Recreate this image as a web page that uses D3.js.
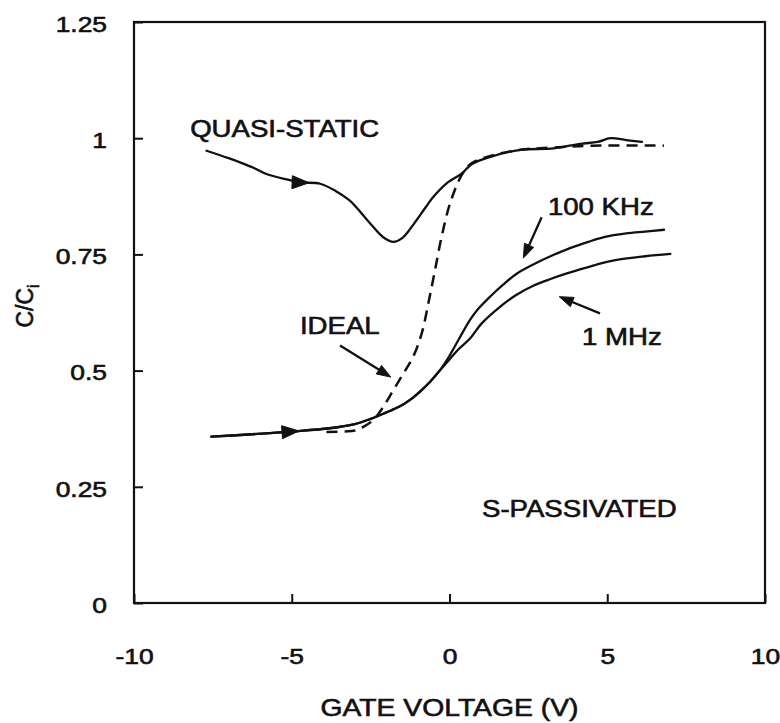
<!DOCTYPE html>
<html>
<head>
<meta charset="utf-8">
<script src="https://cdn.jsdelivr.net/npm/d3@7"></script>
<style>
  html, body { margin: 0; padding: 0; background: #fff; }
  svg { display: block; }
  text { font-family: "Liberation Sans", Arial, Helvetica, sans-serif; fill: #111; stroke: #111; stroke-width: 0.6px; }
</style>
</head>
<body>
<svg id="chart" width="780" height="723"></svg>
<script>
// Axis ticks
const xTickValues = [-10, -5, 0, 5, 10];
const xTickLabels = ["-10", "-5", "0", "5", "10"];
const yTickValues = [0, 0.25, 0.5, 0.75, 1, 1.25];
const yTickLabels = ["0", "0.25", "0.5", "0.75", "1", "1.25"];

// C/Ci versus gate voltage (V)
const quasiStatic = [
  [-7.7, 0.973], [-7.0, 0.957], [-6.6, 0.947], [-6.2, 0.936], [-5.8, 0.923],
  [-5.2, 0.912], [-4.7, 0.905], [-4.1, 0.902], [-3.6, 0.886], [-3.15, 0.865],
  [-2.52, 0.817], [-2.1, 0.787], [-1.78, 0.777], [-1.5, 0.785], [-1.3, 0.8],
  [-1.04, 0.824], [-0.75, 0.852], [-0.51, 0.874], [-0.09, 0.903], [0.39, 0.924],
  [0.7, 0.944], [1.3, 0.96], [2.25, 0.975], [3.3, 0.978], [4.15, 0.988],
  [4.7, 0.992], [5.1, 1.0], [5.6, 0.996], [6.1, 0.992]
];
const ideal = [
  [-3.9, 0.368], [-3.3, 0.369], [-3.0, 0.371], [-2.73, 0.379], [-2.41, 0.394],
  [-2.1, 0.422], [-1.78, 0.458], [-1.46, 0.494], [-1.15, 0.53], [-0.88, 0.58],
  [-0.67, 0.645], [-0.46, 0.716], [-0.25, 0.788], [0.02, 0.86], [0.39, 0.921],
  [0.7, 0.946], [1.3, 0.962], [2.25, 0.975], [3.3, 0.98], [4.5, 0.984],
  [6.8, 0.984]
];
const hf100kHz = [
  [-7.55, 0.358], [-6.5, 0.362], [-5.0, 0.369], [-3.8, 0.376], [-3.0, 0.385],
  [-2.5, 0.396], [-2.0, 0.41], [-1.6, 0.422], [-1.25, 0.437], [-0.9, 0.457],
  [-0.6, 0.477], [-0.3, 0.501], [0.0, 0.532], [0.3, 0.568], [0.65, 0.609],
  [0.9, 0.632], [1.3, 0.66], [1.7, 0.685], [2.14, 0.709], [2.7, 0.73],
  [3.2, 0.746], [3.8, 0.763], [4.4, 0.777], [4.9, 0.787], [5.6, 0.795],
  [6.2, 0.799], [6.8, 0.803]
];
const hf1MHz = [
  [-7.55, 0.358], [-6.5, 0.362], [-5.0, 0.369], [-3.8, 0.376], [-3.0, 0.385],
  [-2.5, 0.396], [-2.0, 0.41], [-1.6, 0.422], [-1.25, 0.437], [-0.9, 0.457],
  [-0.6, 0.477], [-0.3, 0.501], [0.0, 0.524], [0.3, 0.547], [0.65, 0.569],
  [1.0, 0.6], [1.6, 0.637], [2.1, 0.662], [2.67, 0.683], [3.2, 0.697],
  [3.72, 0.709], [4.5, 0.725], [5.3, 0.738], [6.2, 0.746], [7.0, 0.751]
];

// Text labels and pointer arrows, in data units
const labels = [
  { text: "QUASI-STATIC", v: -8.22, c: 1.003 },
  { text: "100 KHz", v: 3.12, c: 0.835 },
  { text: "1 MHz", v: 4.2, c: 0.555 },
  { text: "IDEAL", v: -4.74, c: 0.579 },
  { text: "S-PASSIVATED", v: 1.03, c: 0.185 }
];
const pointers = [
  { from: [2.92, 0.83], to: [2.34, 0.742] },
  { from: [4.77, 0.623], to: [3.48, 0.659] },
  { from: [-3.47, 0.554], to: [-1.86, 0.486] }
];
// Direction arrowheads placed along the curves (gate voltage of the tip)
const sweepMarks = [
  { series: "quasi", v: -4.45 },
  { series: "low", v: -4.77 }
];

const width = 780, height = 723;
const margin = { top: 22, right: 15, bottom: 120, left: 134 };
const tickStretch = 1.2;   // wide lettering
const labelStretch = 1.2;
const lineWidth = 2.3;

const svg = d3.select("#chart");
const x = d3.scaleLinear().domain([-10, 10]).range([margin.left, width - margin.right]);
const y = d3.scaleLinear().domain([0, 1.25]).range([height - margin.bottom, margin.top]);

// Frame
svg.append("rect")
  .attr("x", x(-10)).attr("y", y(1.25))
  .attr("width", x(10) - x(-10)).attr("height", y(0) - y(1.25))
  .attr("fill", "none").attr("stroke", "#111").attr("stroke-width", 2.2);

// Bottom axis: inward ticks
const xAxis = svg.append("g")
  .attr("transform", `translate(0,${y(0)})`)
  .call(d3.axisBottom(x).tickValues(xTickValues)
    .tickFormat((d, i) => xTickLabels[i]).tickSize(-9).tickPadding(45));
xAxis.select(".domain").remove();
xAxis.selectAll("line").attr("stroke", "#111").attr("stroke-width", 2);
xAxis.selectAll("text")
  .attr("font-size", 22).attr("fill", "#111")
  .attr("transform", `scale(${tickStretch},1)`);

// Left axis: inward ticks
const yAxis = svg.append("g")
  .attr("transform", `translate(${x(-10)},0)`)
  .call(d3.axisLeft(y).tickValues(yTickValues)
    .tickFormat((d, i) => yTickLabels[i]).tickSize(-9).tickPadding(26));
yAxis.select(".domain").remove();
yAxis.selectAll("line").attr("stroke", "#111").attr("stroke-width", 2);
yAxis.selectAll("text")
  .attr("font-size", 22).attr("fill", "#111")
  .attr("dy", "0.42em")
  .attr("x", -27 / tickStretch)
  .attr("transform", `scale(${tickStretch},1)`);

// Axis titles
svg.append("text")
  .attr("transform", `translate(${(x(-10) + x(10)) / 2},716) scale(1.18,1)`)
  .attr("text-anchor", "middle").attr("font-size", 24)
  .text("GATE VOLTAGE (V)");

const yTitle = svg.append("text")
  .attr("transform", `translate(33,306) rotate(-90)`)
  .attr("text-anchor", "middle").attr("font-size", 23);
yTitle.append("tspan").text("C/C");
yTitle.append("tspan").attr("font-size", 16).attr("dy", 6).text("i");

// Curves
const line = d3.line()
  .x(d => x(d[0])).y(d => y(d[1]))
  .curve(d3.curveCatmullRom.alpha(0.5));

const curves = svg.append("g").attr("fill", "none").attr("stroke", "#111")
  .attr("stroke-width", lineWidth).attr("stroke-linejoin", "round").attr("stroke-linecap", "round");

const paths = {};
paths.quasi = curves.append("path").attr("d", line(quasiStatic));
curves.append("path").attr("d", line(ideal))
  .attr("stroke-width", 2.5)
  .attr("stroke-dasharray", "11,7").attr("stroke-linecap", "butt");
paths.low = curves.append("path").attr("d", line(hf100kHz));
curves.append("path").attr("d", line(hf1MHz));

// Arrowhead helper: tip at (tx,ty), pointing along angle a
function arrowHead(g, tx, ty, a, len, half) {
  const c = Math.cos(a), s = Math.sin(a);
  const bx = tx - len * c, by = ty - len * s;
  g.append("path")
    .attr("d", `M${tx},${ty}L${bx - half * s},${by + half * c}L${bx + half * s},${by - half * c}Z`)
    .attr("fill", "#111").attr("stroke", "#111").attr("stroke-width", 1).attr("stroke-linejoin", "round");
}

// Point on a rendered path at a given screen x
function pointAtX(node, px) {
  let lo = 0, hi = node.getTotalLength();
  for (let i = 0; i < 40; i++) {
    const mid = (lo + hi) / 2;
    if (node.getPointAtLength(mid).x < px) lo = mid; else hi = mid;
  }
  return lo;
}

const marks = svg.append("g");
sweepMarks.forEach(m => {
  const node = paths[m.series].node();
  const len = pointAtX(node, x(m.v));
  const p = node.getPointAtLength(len);
  const p0 = node.getPointAtLength(Math.max(0, len - 6));
  const a = Math.atan2(p.y - p0.y, p.x - p0.x);
  arrowHead(marks, p.x, p.y, a, 17, 6.5);
});

// Pointer arrows
pointers.forEach(pt => {
  const x1 = x(pt.from[0]), y1 = y(pt.from[1]);
  const x2 = x(pt.to[0]), y2 = y(pt.to[1]);
  const a = Math.atan2(y2 - y1, x2 - x1);
  marks.append("line")
    .attr("x1", x1).attr("y1", y1)
    .attr("x2", x2 - 10 * Math.cos(a)).attr("y2", y2 - 10 * Math.sin(a))
    .attr("stroke", "#111").attr("stroke-width", lineWidth);
  arrowHead(marks, x2, y2, a, 14, 5);
});

// Annotation text
svg.append("g").selectAll("text").data(labels).join("text")
  .attr("transform", d => `translate(${x(d.v)},${y(d.c)}) scale(${labelStretch},1)`)
  .attr("font-size", 23)
  .text(d => d.text);
</script>
</body>
</html>
